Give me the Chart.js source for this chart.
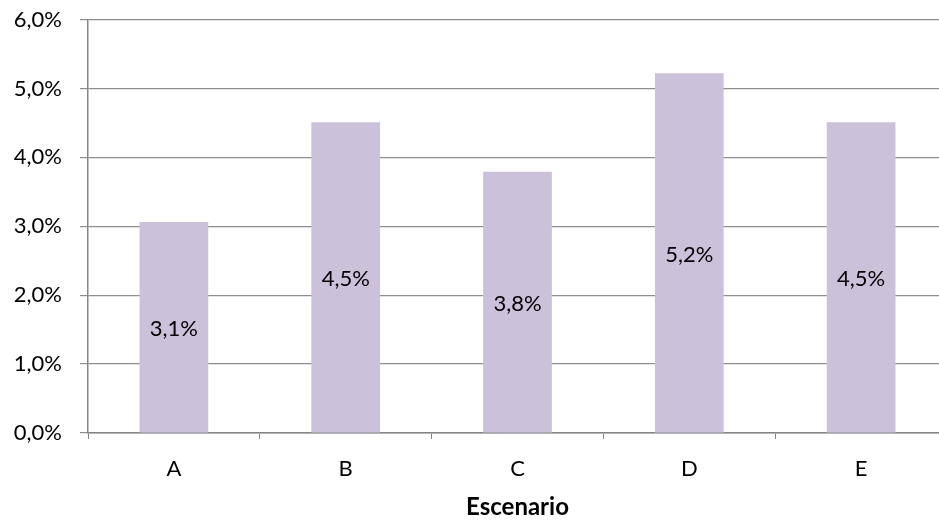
<!DOCTYPE html>
<html>
<head>
<meta charset="utf-8">
<script src="https://cdn.jsdelivr.net/npm/chart.js@4/dist/chart.umd.min.js"></script>
<style>
  html, body { margin: 0; padding: 0; background: #fff; overflow: hidden; }
  #wrap { width: 947px; height: 524px; position: relative; }
</style>
</head>
<body>
<div id="wrap"><canvas id="c"></canvas></div>
<script>
// Scenario results (percent)
const categories = ['A', 'B', 'C', 'D', 'E'];
const values = [3.06, 4.51, 3.79, 5.22, 4.51];
const axisTitle = 'Escenario';

const FONT = 'Lato, "Open Sans", sans-serif';
const FS = 22;

function pct(v) {
  return (Math.round(v * 10) / 10).toFixed(1).replace('.', ',') + '%';
}

// Writes each bar's value in the middle of the bar
const barValueLabels = {
  id: 'barValueLabels',
  afterDatasetsDraw(chart) {
    const ctx = chart.ctx;
    const meta = chart.getDatasetMeta(0);
    ctx.save();
    ctx.font = FS + 'px ' + FONT;
    ctx.fillStyle = '#000';
    ctx.textAlign = 'center';
    ctx.textBaseline = 'middle';
    meta.data.forEach((bar, i) => {
      const v = chart.data.datasets[0].data[i];
      ctx.fillText(pct(v), bar.x, (bar.y + bar.base) / 2 + 2);
    });
    ctx.restore();
  }
};

new Chart(document.getElementById('c'), {
  type: 'bar',
  data: {
    labels: categories,
    datasets: [{
      data: values,
      backgroundColor: '#CCC1DA',
      borderWidth: 0,
      categoryPercentage: 1,
      barPercentage: 0.4
    }]
  },
  options: {
    responsive: true,
    maintainAspectRatio: false,
    animation: false,
    layout: { padding: { top: 19.5, right: 0, left: 0, bottom: 0 } },
    plugins: {
      legend: { display: false },
      tooltip: { enabled: false }
    },
    scales: {
      x: {
        grid: {
          offset: true,
          drawOnChartArea: false,
          drawTicks: true,
          tickLength: 6,
          color: '#868686',
          lineWidth: 1
        },
        border: { color: '#868686', width: 1.5 },
        ticks: {
          color: '#000',
          font: { family: FONT, size: FS },
          padding: 17
        },
        title: {
          display: true,
          text: axisTitle,
          color: '#000',
          font: { family: FONT, size: 24, weight: 'bold' },
          padding: { top: 8, bottom: 2 }
        },
        afterFit(scale) { scale.height = 91; }
      },
      y: {
        min: 0,
        max: 6,
        ticks: {
          stepSize: 1,
          color: '#000',
          font: { family: FONT, size: FS },
          padding: 18,
          callback: (v) => pct(v)
        },
        grid: {
          color: '#8e8e8e',
          lineWidth: 1.2,
          drawTicks: true,
          tickLength: 8
        },
        border: { color: '#868686', width: 1.5 },
        afterFit(scale) {
          scale.width = 88;
          scale.paddingTop = 0;
          scale.paddingBottom = 0;
        }
      }
    }
  },
  plugins: [barValueLabels]
});
</script>
</body>
</html>
